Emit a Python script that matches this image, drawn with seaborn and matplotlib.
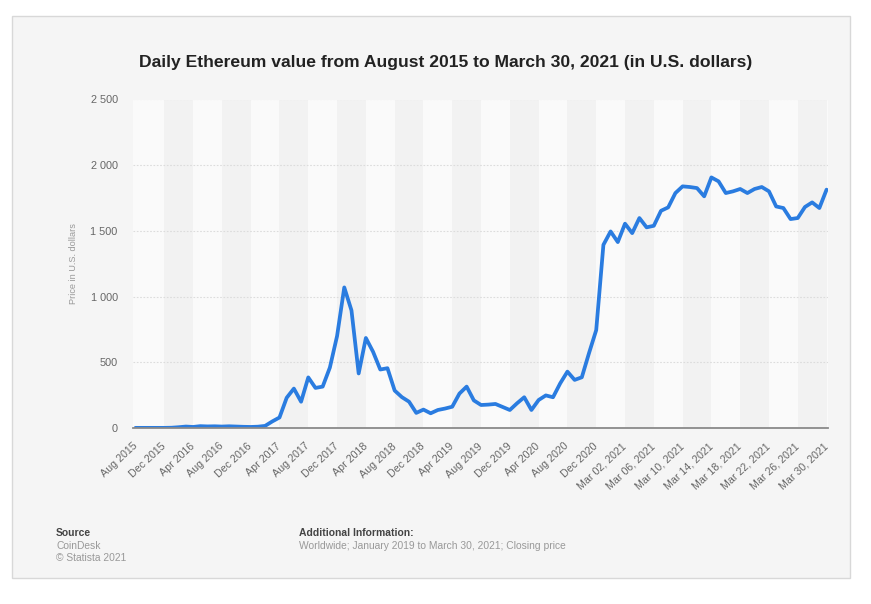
import numpy as np
import pandas as pd
import matplotlib
matplotlib.use("Agg")
import matplotlib.pyplot as plt
from matplotlib.patches import Rectangle
import seaborn as sns

# ---------------- data ----------------
monthly_labels = [
    "Aug 2015", "Sep 2015", "Oct 2015", "Nov 2015", "Dec 2015",
    "Jan 2016", "Feb 2016", "Mar 2016", "Apr 2016", "May 2016", "Jun 2016",
    "Jul 2016", "Aug 2016", "Sep 2016", "Oct 2016", "Nov 2016", "Dec 2016",
    "Jan 2017", "Feb 2017", "Mar 2017", "Apr 2017", "May 2017", "Jun 2017",
    "Jul 2017", "Aug 2017", "Sep 2017", "Oct 2017", "Nov 2017", "Dec 2017",
    "Jan 2018", "Feb 2018", "Mar 2018", "Apr 2018", "May 2018", "Jun 2018",
    "Jul 2018", "Aug 2018", "Sep 2018", "Oct 2018", "Nov 2018", "Dec 2018",
    "Jan 2019", "Feb 2019", "Mar 2019", "Apr 2019", "May 2019", "Jun 2019",
    "Jul 2019", "Aug 2019", "Sep 2019", "Oct 2019", "Nov 2019", "Dec 2019",
    "Jan 2020", "Feb 2020", "Mar 2020", "Apr 2020", "May 2020", "Jun 2020",
    "Jul 2020", "Aug 2020", "Sep 2020", "Oct 2020", "Nov 2020", "Dec 2020",
    "Jan 2021", "Feb 2021",
]
monthly_values = [
    1, 1, 1, 1, 1,
    2, 6, 11, 8, 14, 12, 13, 11, 13, 11, 9, 8,
    10, 16, 50, 80, 230, 300, 200, 385, 305, 315, 460, 700,
    1070, 895, 415, 685, 580, 445, 455, 285, 235, 200, 115, 140,
    112, 137, 148, 162, 262, 315, 210, 175, 178, 183, 160, 137,
    188, 234, 137, 213, 248, 234, 340, 429, 366, 386, 570, 745,
    1394, 1496,
]
march_labels = [
    "Mar 01, 2021", "Mar 02, 2021", "Mar 03, 2021", "Mar 04, 2021", "Mar 05, 2021",
    "Mar 06, 2021", "Mar 07, 2021", "Mar 08, 2021", "Mar 09, 2021", "Mar 10, 2021",
    "Mar 11, 2021", "Mar 12, 2021", "Mar 13, 2021", "Mar 14, 2021", "Mar 15, 2021",
    "Mar 16, 2021", "Mar 17, 2021", "Mar 18, 2021", "Mar 19, 2021", "Mar 20, 2021",
    "Mar 21, 2021", "Mar 22, 2021", "Mar 23, 2021", "Mar 24, 2021", "Mar 25, 2021",
    "Mar 26, 2021", "Mar 27, 2021", "Mar 28, 2021", "Mar 29, 2021", "Mar 30, 2021",
]
march_values = [
    1415, 1555, 1483, 1598, 1527, 1539, 1653, 1679, 1788, 1839,
    1834, 1826, 1763, 1907, 1877, 1788, 1801, 1819, 1788, 1819,
    1834, 1801, 1686, 1674, 1590, 1598, 1682, 1717, 1674, 1814,
]
tick_labels = [
    "Aug 2015", "Dec 2015", "Apr 2016", "Aug 2016", "Dec 2016", "Apr 2017",
    "Aug 2017", "Dec 2017", "Apr 2018", "Aug 2018", "Dec 2018", "Apr 2019",
    "Aug 2019", "Dec 2019", "Apr 2020", "Aug 2020", "Dec 2020",
    "Mar 02, 2021", "Mar 06, 2021", "Mar 10, 2021", "Mar 14, 2021",
    "Mar 18, 2021", "Mar 22, 2021", "Mar 26, 2021", "Mar 30, 2021",
]
y_ticks = [0, 500, 1000, 1500, 2000, 2500]
y_tick_labels = ["0", "500", "1 000", "1 500", "2 000", "2 500"]

categories = monthly_labels + march_labels
values = monthly_values + march_values
df = pd.DataFrame({"date": categories, "price": values})
df["pos"] = np.arange(len(df))
tick_pos = [categories.index(t) for t in tick_labels]

# ---------------- figure ----------------
sns.set_theme(style="white")
plt.rcParams["font.family"] = ["Liberation Sans", "DejaVu Sans"]

W, H = 871, 604
fig = plt.figure(figsize=(W / 100, H / 100), dpi=100)
fig.patch.set_facecolor("white")

def fx(px):
    return px / W

def fy(py):
    return 1 - py / H

# panel background
fig.patches.append(Rectangle((fx(12), fy(578)), fx(850) - fx(12), fy(16) - fy(578),
                             transform=fig.transFigure, facecolor="#f5f5f5",
                             edgecolor="#d8d8d8", linewidth=1.0, zorder=-10))

ax = fig.add_axes([fx(133), fy(428), fx(828) - fx(133), fy(99.5) - fy(428)])
ax.set_zorder(1)
ax.set_facecolor("#fafafa")
n = len(df)
ax.set_xlim(-0.35, n - 1 + 0.2)
ax.set_ylim(0, 2500)

# alternating bands between labelled ticks
for k in range(len(tick_pos) - 1):
    if k % 2 == 1:
        ax.axvspan(tick_pos[k], tick_pos[k + 1], color="#f2f2f2", lw=0, zorder=0)

ax.set_yticks(y_ticks)
ax.set_yticklabels(y_tick_labels)
ax.yaxis.grid(True, color="#dcdcdc", linestyle=(0, (1.5, 1.5)), linewidth=0.8, zorder=1)
ax.xaxis.grid(False)

sns.lineplot(data=df, x="pos", y="price", ax=ax, color="#2a7ce0", linewidth=2.7,
             zorder=3, solid_joinstyle="round", solid_capstyle="round")

for side in ["top", "right", "left"]:
    ax.spines[side].set_visible(False)
ax.spines["bottom"].set_color("#8a8a8a")
ax.spines["bottom"].set_linewidth(1.3)
ax.spines["bottom"].set_zorder(4)

ax.set_xticks(tick_pos)
ax.set_xticklabels(tick_labels, rotation=43, ha="right", va="center",
                   rotation_mode="anchor", fontsize=7.7, color="#666666")
ax.tick_params(axis="x", length=0, pad=12)
ax.tick_params(axis="y", length=0, pad=11, labelsize=7.8, labelcolor="#666666")

ax.set_xlabel("")
ax.set_ylabel("Price in U.S. dollars", fontsize=6.6, color="#999999")
ax.yaxis.set_label_coords(-0.079, 0.5)

fig.text(fx(446), fy(62), "Daily Ethereum value from August 2015 to March 30, 2021 (in U.S. dollars)",
         ha="center", va="center", fontsize=12.6, fontweight="bold", color="#222222")

fig.text(fx(56), fy(533), "Source", ha="left", va="center", fontsize=7.5,
         fontweight="bold", color="#444444")
fig.text(fx(56), fy(546), "CoinDesk", ha="left", va="center", fontsize=7.4, color="#999999")
fig.text(fx(56), fy(558), "\u00a9 Statista 2021", ha="left", va="center", fontsize=7.4, color="#999999")
fig.text(fx(299), fy(533), "Additional Information:", ha="left", va="center", fontsize=7.5,
         fontweight="bold", color="#444444")
fig.text(fx(299), fy(546), "Worldwide; January 2019 to March 30, 2021; Closing price",
         ha="left", va="center", fontsize=7.4, color="#999999")

fig.savefig("out.png", dpi=100, facecolor=fig.get_facecolor())
